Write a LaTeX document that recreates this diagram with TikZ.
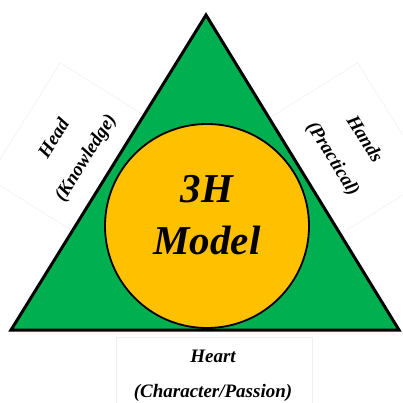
\documentclass[tikz,border=0pt]{standalone}
\usepackage{fontspec}
\setmainfont{Liberation Serif}
\definecolor{modelgreen}{HTML}{00B050}
\definecolor{modelgold}{HTML}{FFC000}
\begin{document}
\begin{tikzpicture}[x=1pt,y=-1pt,
  hlabel/.style={font=\fontsize{19}{37}\selectfont\bfseries\itshape, align=center, inner sep=0pt},
  textbox/.style={draw=black!6, line width=0.5pt, fill=white, inner sep=0pt},
  triside/.style={draw=black, line width=3pt, fill=modelgreen, line join=miter},
  core/.style={draw=black, line width=1.8pt, fill=modelgold},
  title/.style={font=\fontsize{41}{52}\selectfont\bfseries\itshape, align=center, inner sep=0pt}]
\useasboundingbox (0,0) rectangle (402,403);

% faint frames of the three text boxes
\node[textbox, rotate=58, minimum width=136pt, minimum height=115pt] (headbox) at (73,151) {};
\node[textbox, rotate=-58, minimum width=136pt, minimum height=115pt] (handsbox) at (345,151) {};
\node[textbox, minimum width=196pt, minimum height=90pt, anchor=north west] (heartbox) at (116,337) {};

% triangle
\coordinate (apex) at (206,15);
\coordinate (left) at (11,330);
\coordinate (right) at (399,330);
\draw[triside] (apex) -- (left) -- (right) -- cycle;

% inner circle
\node[core, circle, minimum size=204pt, inner sep=0pt] (model) at (207,226) {};
\node[title] (modeltxt) at (207,215) {3H\\Model};

% labels
\node[hlabel, rotate=58] (head) at (70.5,148.5) {Head\\(Knowledge)};
\node[hlabel, rotate=-58] (hands) at (348,149.5) {Hands\\(Practical)};
\node[hlabel, anchor=base] (heart) at (213,362) {Heart};
\node[hlabel, anchor=base] (heartsub) at (213,397) {(Character/Passion)};
\end{tikzpicture}
\end{document}
